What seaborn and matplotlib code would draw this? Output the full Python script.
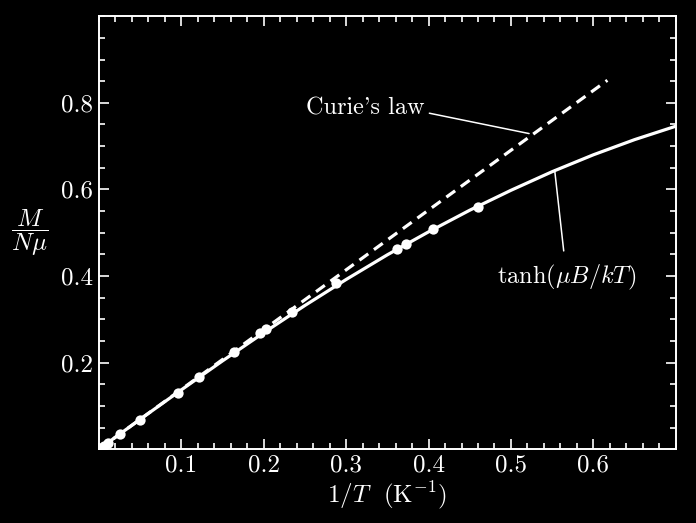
import numpy as np
import pandas as pd
import matplotlib
matplotlib.use("Agg")
import matplotlib.pyplot as plt
import seaborn as sns
from matplotlib.ticker import MultipleLocator

# values
curve_x = [0.0, 0.05, 0.1, 0.15, 0.2, 0.25, 0.3, 0.35, 0.4, 0.45, 0.5, 0.55, 0.6, 0.65, 0.7]
curve_y = [0.0, 0.069, 0.137, 0.204, 0.269, 0.332, 0.392, 0.449, 0.502, 0.552, 0.598, 0.641, 0.680, 0.715, 0.746]

curie_x = [0.0, 0.617]
curie_y = [0.0, 0.852]

meas_x = [0.002, 0.006, 0.011, 0.026, 0.050, 0.096, 0.122, 0.164, 0.196, 0.203,
          0.234, 0.288, 0.362, 0.373, 0.406, 0.460]
meas_y = [0.003, 0.008, 0.014, 0.035, 0.068, 0.130, 0.168, 0.224, 0.268, 0.278,
          0.318, 0.383, 0.462, 0.475, 0.508, 0.559]

x_ticks = [0.1, 0.2, 0.3, 0.4, 0.5, 0.6]
y_ticks = [0.2, 0.4, 0.6, 0.8]

sns.set_style("ticks")
plt.rcParams.update({
    "font.family": ["cmr10", "DejaVu Serif"],
    "mathtext.fontset": "cm",
    "axes.formatter.use_mathtext": True,
    "figure.facecolor": "black",
    "axes.facecolor": "black",
    "savefig.facecolor": "black",
    "axes.edgecolor": "white",
    "axes.labelcolor": "white",
    "text.color": "white",
    "xtick.color": "white",
    "ytick.color": "white",
})

curve_df = pd.DataFrame({"x": curve_x, "y": curve_y})
curie_df = pd.DataFrame({"x": curie_x, "y": curie_y})
meas_df = pd.DataFrame({"x": meas_x, "y": meas_y})

fig = plt.figure(figsize=(6.96, 5.23), dpi=100)
ax = fig.add_axes([0.142, 0.141, 0.829, 0.828])

sns.lineplot(data=curie_df, x="x", y="y", ax=ax, color="white", lw=2.3,
             linestyle=(0, (3.4, 2.2)), estimator=None, sort=False)
sns.lineplot(data=curve_df, x="x", y="y", ax=ax, color="white", lw=2.3,
             estimator=None)
sns.scatterplot(data=meas_df, x="x", y="y", ax=ax, color="white", s=55,
                edgecolor="white", linewidth=0, zorder=5)

ax.set_xlim(0, 0.7)
ax.set_ylim(0, 1.0)
ax.set_xticks(x_ticks)
ax.set_xticklabels([f"{v:.1f}" for v in x_ticks])
ax.set_yticks(y_ticks)
ax.set_yticklabels([f"{v:.1f}" for v in y_ticks])
ax.xaxis.set_minor_locator(MultipleLocator(0.02))
ax.yaxis.set_minor_locator(MultipleLocator(0.05))
ax.tick_params(which="both", direction="in", top=True, right=True, colors="white",
               labelsize=18, width=1.2, pad=4)
ax.tick_params(which="major", length=7)
ax.tick_params(which="minor", length=4)
for s in ax.spines.values():
    s.set_color("white")
    s.set_linewidth(1.4)

ax.set_xlabel(r"$1/T$  (K$^{-1}$)", fontsize=18, labelpad=2)
ax.set_ylabel(r"$\dfrac{M}{N\mu}$", fontsize=18, rotation=0, va="center", ha="center")
ax.yaxis.set_label_coords(-0.12, 0.5)

# annotations with leader lines
ax.text(0.251, 0.788, "Curie's law", fontsize=17.5, va="center", ha="left")
ax.plot([0.401, 0.522], [0.776, 0.729], color="white", lw=1.1)
ax.text(0.483, 0.396, r"tanh$(\mu B/kT)$", fontsize=17.5, va="center", ha="left")
ax.plot([0.564, 0.553], [0.458, 0.645], color="white", lw=1.1)

plt.savefig("out.png", dpi=100, facecolor="black")
